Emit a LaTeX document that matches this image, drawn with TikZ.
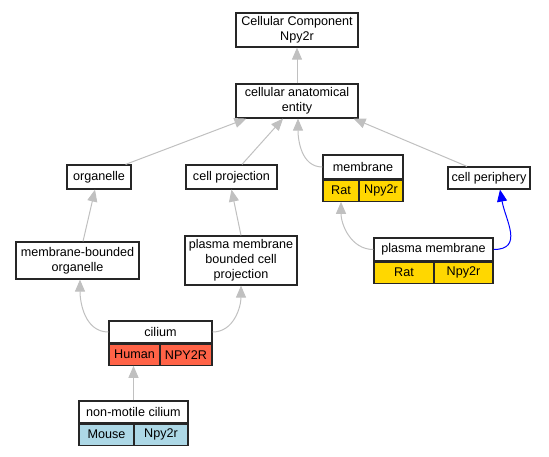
\documentclass[tikz,border=0pt]{standalone}
\usepackage{fontspec}
\setmainfont{Liberation Sans}
\usetikzlibrary{arrows.meta}
\definecolor{gold}{HTML}{FFD700}
\definecolor{tomato}{HTML}{FF6347}
\definecolor{lblue}{HTML}{ADD8E6}
\definecolor{edgegray}{HTML}{C0C0C0}
\begin{document}
\begin{tikzpicture}[x=1pt,y=-1pt,
  font=\fontsize{12.6}{15}\selectfont,
  box/.style={draw=black!85,line width=1.2pt,fill=white,align=center,inner sep=2pt},
  cell/.style={draw=black!85,line width=1.2pt,inner sep=0pt,minimum height=21},
  edge/.style={draw=edgegray,line width=1pt,-{Triangle[length=12pt,width=10pt,fill=edgegray]}},
  blueedge/.style={draw=blue,line width=1pt,-{Triangle[length=12pt,width=10pt,fill=blue]}}]
\useasboundingbox (0,0) rectangle (549,456);

% plain terms
\node[box,minimum width=122,minimum height=34] (ccomp) at (297,30) {Cellular Component\\Npy2r};
\node[box,minimum width=122,minimum height=34] (cae) at (297,101) {cellular anatomical\\entity};
\node[box,minimum width=64,minimum height=24] (organelle) at (99,177) {organelle};
\node[box,minimum width=91,minimum height=24] (cellproj) at (231.5,177) {cell projection};
\node[box,minimum width=82,minimum height=22] (cellper) at (489,178) {cell periphery};
\node[box,minimum width=123,minimum height=37] (mbo) at (77.5,260.5) {membrane-bounded\\organelle};
\node[box,minimum width=112,minimum height=49] (pmbcp) at (241,260.5) {plasma membrane\\bounded cell\\projection};

% annotated terms: header, then species / gene cells
\node[box,minimum width=80,minimum height=24] (membrane) at (363,167) {membrane};
\node[box,minimum width=119,minimum height=23] (pm) at (433.5,249.5) {plasma membrane};
\node[box,minimum width=103,minimum height=22] (cilium) at (160.5,332) {cilium};
\node[box,minimum width=109,minimum height=22] (nmc) at (133.5,412) {non-motile cilium};
\foreach \n/\c/\wl/\wr/\sp/\gn in {membrane/gold/36/44/Rat/Npy2r, pm/gold/60/59/Rat/Npy2r,
    cilium/tomato/51/52/Human/NPY2R, nmc/lblue/55/54/Mouse/Npy2r} {
  \node[cell,fill=\c,minimum width=\wl,anchor=north west] (\n L) at (\n.south west) {\sp};
  \node[cell,fill=\c,minimum width=\wr,anchor=north east] (\n R) at (\n.south east) {\gn};
}

% is_a edges
\draw[edge] (cae) -- (ccomp);
\draw[edge] ([xshift=-6]organelle.north east) -- ([xshift=11]cae.south west);
\draw[edge] ([xshift=10.5]cellproj.north) -- ([xshift=-14]cae.south);
\draw[edge] (membrane.west) to[out=180,in=-90] ([xshift=1]cae.south);
\draw[edge] ([xshift=-22]cellper.north) -- ([xshift=-5]cae.south east);
\draw[edge] ([xshift=5.5]mbo.north) -- ([xshift=-4]organelle.south);
\draw[edge] (pmbcp.north) -- (cellproj.south);
\draw[edge] (pm.west) to[out=180,in=-90] (membraneL.south);
\draw[blueedge] (pm.east) to[out=0,in=-80,looseness=1.3] ([xshift=11]cellper.south);
\draw[edge] (cilium.west) to[out=180,in=-90] ([xshift=2.5]mbo.south);
\draw[edge] (cilium.east) to[out=0,in=-90] (pmbcp.south);
\draw[edge] (nmc.north) -- (nmc.north |- ciliumL.south);
\end{tikzpicture}
\end{document}
